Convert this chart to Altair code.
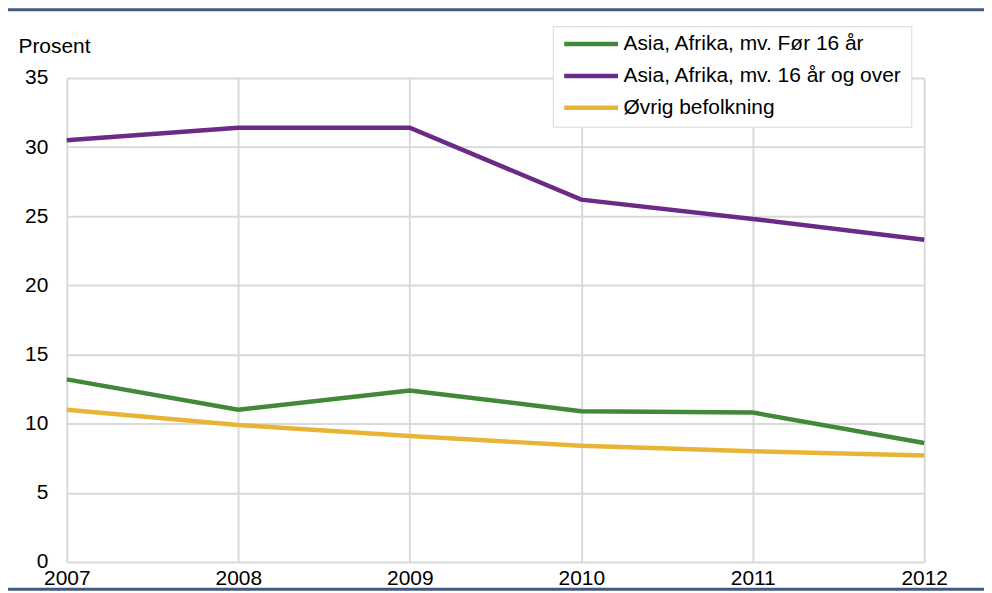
import altair as alt
import pandas as pd

years = [2007, 2008, 2009, 2010, 2011, 2012]
series_names = [
    "Asia, Afrika, mv. Før 16 år",
    "Asia, Afrika, mv. 16 år og over",
    "Øvrig befolkning",
]
green_vals = [13.2, 11.0, 12.4, 10.9, 10.8, 8.6]
purple_vals = [30.5, 31.4, 31.4, 26.2, 24.8, 23.3]
yellow_vals = [11.0, 9.9, 9.1, 8.4, 8.0, 7.7]
colors = ["#43883a", "#6a2a85", "#e8b435"]
y_ticks = [0, 5, 10, 15, 20, 25, 30, 35]

rows = []
for name, vals in zip(series_names, [green_vals, purple_vals, yellow_vals]):
    for yr, v in zip(years, vals):
        rows.append({"year": yr, "value": v, "series": name})
df = pd.DataFrame(rows)

W, H = 861, 486
PL, PT, PR, PB = 59, 69, 60, 30
FONT = "Liberation Sans"

lines = alt.Chart(df).mark_line(strokeWidth=4.5).encode(
    x=alt.X(
        "year:Q",
        scale=alt.Scale(domain=[2007, 2012], nice=False, zero=False),
        axis=alt.Axis(
            values=years, format="d", title=None, domain=False, ticks=False,
            labelPadding=6, labelFontSize=21, labelColor="#000000",
            gridColor="#d9d9d9", gridWidth=2, labelFlush=False,
        ),
    ),
    y=alt.Y(
        "value:Q",
        scale=alt.Scale(domain=[0, 35], nice=False),
        axis=alt.Axis(
            values=y_ticks, title="Prosent", domain=False, ticks=False,
            labelPadding=19, labelFontSize=21, labelColor="#000000",
            gridColor="#d9d9d9", gridWidth=2,
            titleAngle=0, titleX=-49, titleY=-32, titleAlign="left",
            titleBaseline="middle", titleFontSize=21, titleFontWeight="normal",
            titleColor="#000000",
        ),
    ),
    color=alt.Color(
        "series:N",
        scale=alt.Scale(domain=series_names, range=colors),
        sort=series_names,
        legend=alt.Legend(
            title=None, orient="none", legendX=488, legendY=-52,
            symbolType="stroke", symbolSize=2916, symbolStrokeWidth=4.5,
            labelFontSize=21, labelColor="#000000", labelOffset=3,
            labelLimit=500,
            clipHeight=18, rowPadding=11, padding=9,
            strokeColor="#d9d9d9", fillColor="#ffffff",
        ),
    ),
)

border_df = pd.DataFrame({"k": [0]})
top_rule = alt.Chart(border_df).mark_rule(color="#44587f", strokeWidth=3).encode(
    x=alt.value(-PL), x2=alt.value(W + PR), y=alt.value(-68.5)
)
bottom_rule = alt.Chart(border_df).mark_rule(color="#44587f", strokeWidth=3).encode(
    x=alt.value(-PL), x2=alt.value(W + PR), y=alt.value(513.5)
)

chart = alt.layer(lines, top_rule, bottom_rule).properties(
    width=W, height=H,
    autosize=alt.AutoSizeParams(type="none"),
    padding={"left": PL, "top": PT, "right": PR, "bottom": PB},
).configure(font=FONT).configure_view(stroke=None)

chart.save("out.html", embed_options={"renderer": "svg", "actions": False})
